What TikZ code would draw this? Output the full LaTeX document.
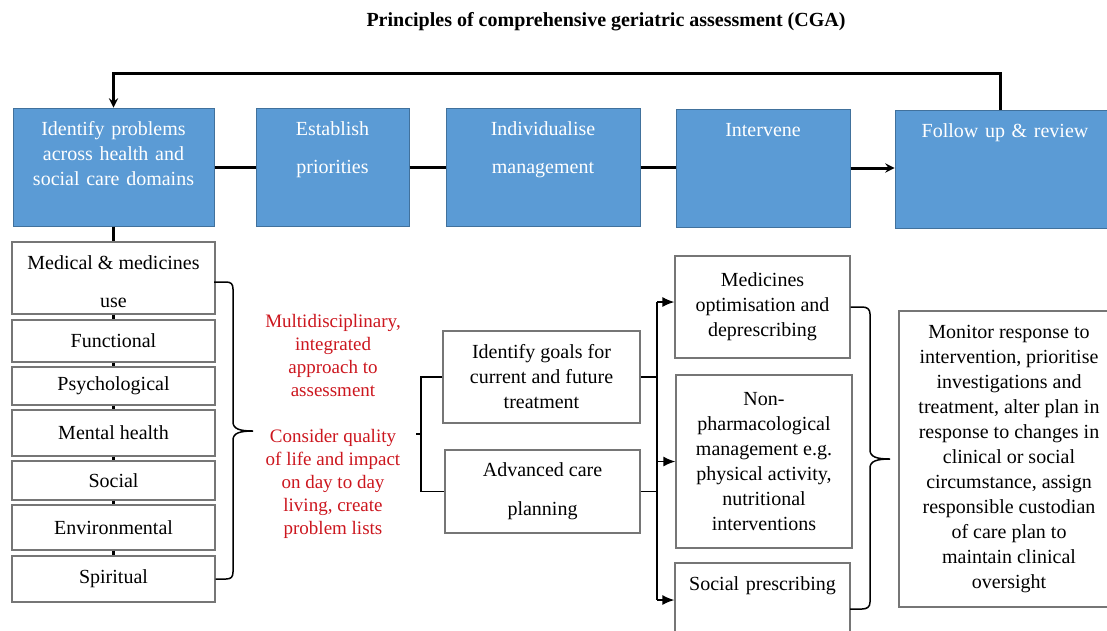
\documentclass[tikz,border=0pt]{standalone}
\usepackage{fontspec}
\setmainfont{Liberation Serif}
\usepackage{tikz}
\usetikzlibrary{shapes.geometric, arrows, arrows.meta, positioning}
\definecolor{stageblue}{RGB}{91,155,213}
\definecolor{stageedge}{RGB}{65,113,156}
\definecolor{boxgray}{RGB}{118,118,118}
\definecolor{notered}{RGB}{204,22,30}
\tikzstyle{stage} = [rectangle, inner xsep=4pt, inner ysep=0pt, text height=27pt, text depth=91pt, align=center, fill=stageblue, draw=stageedge, line width=1pt, text=white]
\tikzstyle{domainbox} = [rectangle, minimum width=203pt, inner sep=0pt, align=center, draw=boxgray, line width=1.2pt, fill=white]
\tikzstyle{planbox} = [rectangle, inner sep=0pt, align=center, draw=boxgray, line width=1.2pt]
\tikzstyle{link} = [line width=3pt]
\tikzstyle{arrow} = [line width=3pt,->,>=stealth]
\tikzstyle{fork} = [line width=1.5pt]
\tikzstyle{forkarrow} = [line width=1.5pt,->,>={Latex[length=12pt,width=10pt]}]
\tikzstyle{bracket} = [line width=1.5pt]

\begin{document}
\begin{tikzpicture}[x=1pt, y=-1pt, font=\fontsize{20}{25}\selectfont]
	\useasboundingbox (0,0) rectangle (1107,630);
	\node (title) at (606,22) {\fontsize{20}{23}\selectfont\bfseries Principles of comprehensive geriatric assessment (CGA)};

	\node (boxIdentify) [stage, text width=193pt] at (113.5,167) {Identify problems\\across health and\\social care domains};
	\node (boxPriorities) [stage, text width=145pt] at (332.5,167) {Establish\\[13pt]priorities};
	\node (boxIndividualise) [stage, text width=186pt] at (543,167) {Individualise\\[13pt]management};
	\node (boxIntervene) [stage, text width=166pt] at (763,168) {Intervene};
	\node (boxFollowUp) [stage, text width=212pt] at (1005,169.5) {Follow up \& review};

	\node (domMedical) [domainbox, minimum height=72pt] at (113.5,278) {\\[-4pt]Medical \& medicines\\[13pt]use};
	\node (domFunctional) [domainbox, minimum height=42pt] at (113.5,341) {Functional};
	\node (domPsychological) [domainbox, minimum height=38pt] at (113.5,386) {Psychological};
	\node (domMental) [domainbox, minimum height=46pt] at (113.5,433) {Mental health};
	\node (domSocial) [domainbox, minimum height=39pt] at (113.5,480.5) {Social};
	\node (domEnvironmental) [domainbox, minimum height=45pt] at (113.5,527.5) {Environmental};
	\node (domSpiritual) [domainbox, minimum height=46pt] at (113.5,579) {Spiritual};

	\node (txtApproach) [text=notered, align=center, font=\fontsize{19}{23}\selectfont] at (333,426) {Multidisciplinary,\\integrated\\approach to\\assessment\\[23pt]Consider quality\\of life and impact\\on day to day\\living, create\\problem lists};

	\node (proGoals) [planbox, minimum width=197pt, minimum height=92pt] at (541.5,377) {Identify goals for\\current and future\\treatment};
	\node (proCarePlan) [planbox, minimum width=195pt, minimum height=83pt] at (542.5,491.5) {Advanced care\\[14pt]planning};

	\node (intMedicines) [planbox, minimum width=175pt, minimum height=102pt] at (762.5,307) {Medicines\\optimisation and\\deprescribing};
	\node (intNonPharm) [planbox, minimum width=176pt, minimum height=173pt] at (764,461.5) {Non-\\pharmacological\\management e.g.\\physical activity,\\nutritional\\interventions};
	\node (intSocial) [planbox, text width=175pt, text height=27pt, text depth=47pt] at (762.5,600) {Social prescribing};

	\node (boxMonitor) [planbox, minimum width=220pt, minimum height=296pt] at (1009,459) {Monitor response to\\intervention, prioritise\\investigations and\\treatment, alter plan in\\response to changes in\\clinical or social\\circumstance, assign\\responsible custodian\\of care plan to\\maintain clinical\\oversight};

	\draw [link] (boxIdentify.east) -- (boxIdentify.east -| boxPriorities.west);
	\draw [link] (boxPriorities.east) -- (boxPriorities.east -| boxIndividualise.west);
	\draw [link] (boxIndividualise.east) -- (boxIndividualise.east -| boxIntervene.west);
	\draw [arrow] (boxIntervene.east) -- (boxIntervene.east -| boxFollowUp.west);
	\draw [arrow] ([xshift=-5pt]boxFollowUp.north) -- ++(0,-37) -| (boxIdentify.north);

	\foreach \upper/\lower in {boxIdentify/domMedical, domMedical/domFunctional, domFunctional/domPsychological, domPsychological/domMental, domMental/domSocial, domSocial/domEnvironmental, domEnvironmental/domSpiritual}
		\draw [link] (\upper.south) -- (\lower.north);

	\coordinate (leftTip) at (253,431);
	\draw [bracket] (214,282) -- (226,282) .. controls (231,282) and (233,284) .. (233,289) -- (233,422) .. controls (233,429) and (240,431) .. (leftTip) .. controls (240,431) and (233,433) .. (233,440) -- (233,572) .. controls (233,577) and (231,579) .. (226,579) -- (domSpiritual.east);

	\coordinate (forkLeft) at (421,434);
	\draw [fork] (proGoals.west) -| (forkLeft) |- (proCarePlan.west);
	\draw [fork] (forkLeft) -- ++(-5,0);

	\coordinate (forkRight) at (657,450);
	\coordinate (medArrow) at ([yshift=5pt]intMedicines.west);
	\draw [fork] (proGoals.east) -- (proGoals.east -| forkRight);
	\draw [fork] (proCarePlan.east) -- (proCarePlan.east -| forkRight);
	\draw [fork] (medArrow -| forkRight) -- (intSocial.west -| forkRight);
	\draw [forkarrow] (medArrow -| forkRight) -- (medArrow);
	\draw [forkarrow] (intNonPharm.west -| forkRight) -- (intNonPharm.west);
	\draw [forkarrow] (intSocial.west -| forkRight) -- (intSocial.west);

	\coordinate (rightTip) at (890,459);
	\draw [bracket] (intMedicines.east) -- (862,307) .. controls (867,307) and (870,309) .. (870,314) -- (870,450) .. controls (870,457) and (877,459) .. (rightTip) .. controls (877,459) and (870,461) .. (870,468) -- (870,602) .. controls (870,607) and (867,609) .. (862,609) -- (850,609);
\end{tikzpicture}
\end{document}
